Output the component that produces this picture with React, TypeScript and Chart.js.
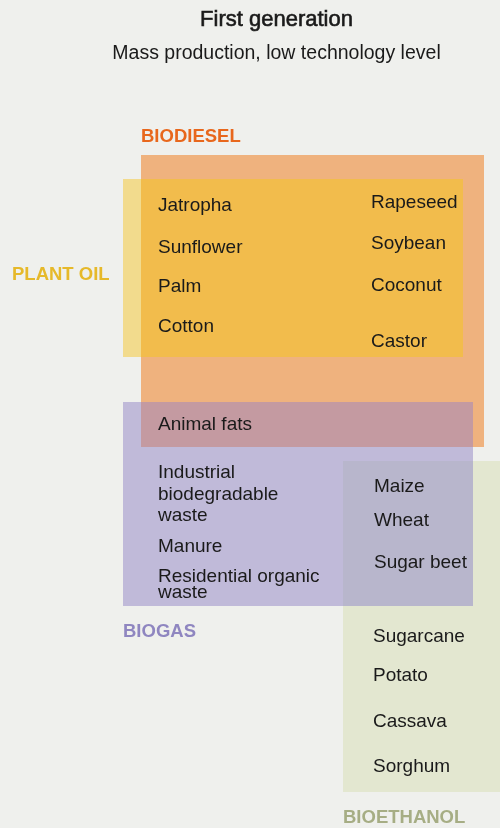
import React, { useEffect, useRef } from "react";
import { Chart, registerables } from "chart.js";

Chart.register(...registerables);

// ---- data ----
const TITLE = "First generation";
const SUBTITLE = "Mass production, low technology level";

const SET_NAMES = ["BIODIESEL", "PLANT OIL", "BIOGAS", "BIOETHANOL"];
const SET_X_MIN = [141, 123, 123, 343];
const SET_X_MAX = [484, 463, 473, 500];
const SET_Y_MIN = [155, 179, 402, 461];
const SET_Y_MAX = [447, 357, 606, 792];
const SET_FILL = ["#efb27e", "#f2db8d", "#c0bad9", "#e3e7d0"];
const SET_LABEL_COLOR = ["#e8671c", "#e6b92a", "#8f86c0", "#a6ad84"];
const SET_LABEL_X = [141, 12, 123, 343];
const SET_LABEL_Y = [141.5, 280, 636.5, 823];

// overlaps: pairs of set indices and the blended colour
const OVERLAP_A = [0, 0, 2];
const OVERLAP_B = [1, 2, 3];
const OVERLAP_FILL = ["#f2bc4c", "#c49aa1", "#b8b6cc"];

const ITEM_TEXT = [
  "Jatropha", "Sunflower", "Palm", "Cotton",
  "Rapeseed", "Soybean", "Coconut", "Castor",
  "Animal fats",
  "Industrial", "biodegradable", "waste",
  "Manure",
  "Residential organic", "waste",
  "Maize", "Wheat", "Sugar beet",
  "Sugarcane", "Potato", "Cassava", "Sorghum",
];
const ITEM_X = [
  158, 158, 158, 158,
  371, 371, 371, 371,
  158,
  158, 158, 158,
  158,
  158, 158,
  374, 374, 374,
  373, 373, 373, 373,
];
const ITEM_Y = [
  211, 253, 292, 332,
  208, 249, 291, 347,
  430,
  478, 500, 521,
  552,
  582, 598,
  492, 526, 568,
  642, 681, 727, 772,
];

const BG = "#eff0ed";
const FONT = '"Liberation Sans", Arial, Helvetica, sans-serif';

const vennPlugin = {
  id: "venn",
  beforeDraw(chart: any) {
    const { ctx, scales } = chart;
    const x = scales.x;
    const y = scales.y;
    ctx.save();
    ctx.fillStyle = BG;
    ctx.fillRect(0, 0, chart.width, chart.height);

    const rect = (x0: number, x1: number, y0: number, y1: number, c: string) => {
      const px0 = x.getPixelForValue(x0);
      const px1 = x.getPixelForValue(x1);
      const py0 = y.getPixelForValue(y0);
      const py1 = y.getPixelForValue(y1);
      ctx.fillStyle = c;
      ctx.fillRect(Math.min(px0, px1), Math.min(py0, py1), Math.abs(px1 - px0), Math.abs(py1 - py0));
    };

    for (let i = 0; i < SET_NAMES.length; i++) {
      rect(SET_X_MIN[i], SET_X_MAX[i], SET_Y_MIN[i], SET_Y_MAX[i], SET_FILL[i]);
    }
    for (let k = 0; k < OVERLAP_A.length; k++) {
      const a = OVERLAP_A[k];
      const b = OVERLAP_B[k];
      const x0 = Math.max(SET_X_MIN[a], SET_X_MIN[b]);
      const x1 = Math.min(SET_X_MAX[a], SET_X_MAX[b]);
      const y0 = Math.max(SET_Y_MIN[a], SET_Y_MIN[b]);
      const y1 = Math.min(SET_Y_MAX[a], SET_Y_MAX[b]);
      if (x1 > x0 && y1 > y0) rect(x0, x1, y0, y1, OVERLAP_FILL[k]);
    }

    ctx.textBaseline = "alphabetic";
    // titles
    ctx.textAlign = "center";
    ctx.fillStyle = "#1a1a1a";
    ctx.strokeStyle = "#1a1a1a";
    ctx.lineWidth = 0.6;
    ctx.font = `22px ${FONT}`;
    const tx = x.getPixelForValue(276.5);
    const ty = y.getPixelForValue(25.5);
    ctx.fillText(TITLE, tx, ty);
    ctx.strokeText(TITLE, tx, ty);
    ctx.font = `19.5px ${FONT}`;
    ctx.fillText(SUBTITLE, x.getPixelForValue(276.5), y.getPixelForValue(59));

    // set labels
    ctx.textAlign = "left";
    ctx.font = `bold 18.5px ${FONT}`;
    for (let i = 0; i < SET_NAMES.length; i++) {
      ctx.fillStyle = SET_LABEL_COLOR[i];
      ctx.fillText(SET_NAMES[i], x.getPixelForValue(SET_LABEL_X[i]), y.getPixelForValue(SET_LABEL_Y[i]));
    }

    // items
    ctx.font = `19px ${FONT}`;
    ctx.fillStyle = "#1a1a1a";
    for (let i = 0; i < ITEM_TEXT.length; i++) {
      ctx.fillText(ITEM_TEXT[i], x.getPixelForValue(ITEM_X[i]), y.getPixelForValue(ITEM_Y[i]));
    }
    ctx.restore();
  },
};

export default function App() {
  const ref = useRef<HTMLCanvasElement | null>(null);
  useEffect(() => {
    document.body.style.margin = "0";
    document.body.style.background = BG;
    if (!ref.current) return;
    const chart = new Chart(ref.current, {
      type: "scatter",
      data: { datasets: [{ data: [], pointRadius: 0 }] },
      options: {
        animation: false,
        responsive: false,
        maintainAspectRatio: false,
        layout: { padding: 0 },
        plugins: { legend: { display: false }, tooltip: { enabled: false }, title: { display: false } },
        scales: {
          x: { type: "linear", min: 0, max: 500, display: false },
          y: { type: "linear", min: 0, max: 828, reverse: true, display: false },
        },
      },
      plugins: [vennPlugin],
    });
    return () => chart.destroy();
  }, []);
  return (
    <div style={{ width: 500, height: 828, background: BG }}>
      <canvas ref={ref} width={500} height={828} style={{ display: "block" }} />
    </div>
  );
}
